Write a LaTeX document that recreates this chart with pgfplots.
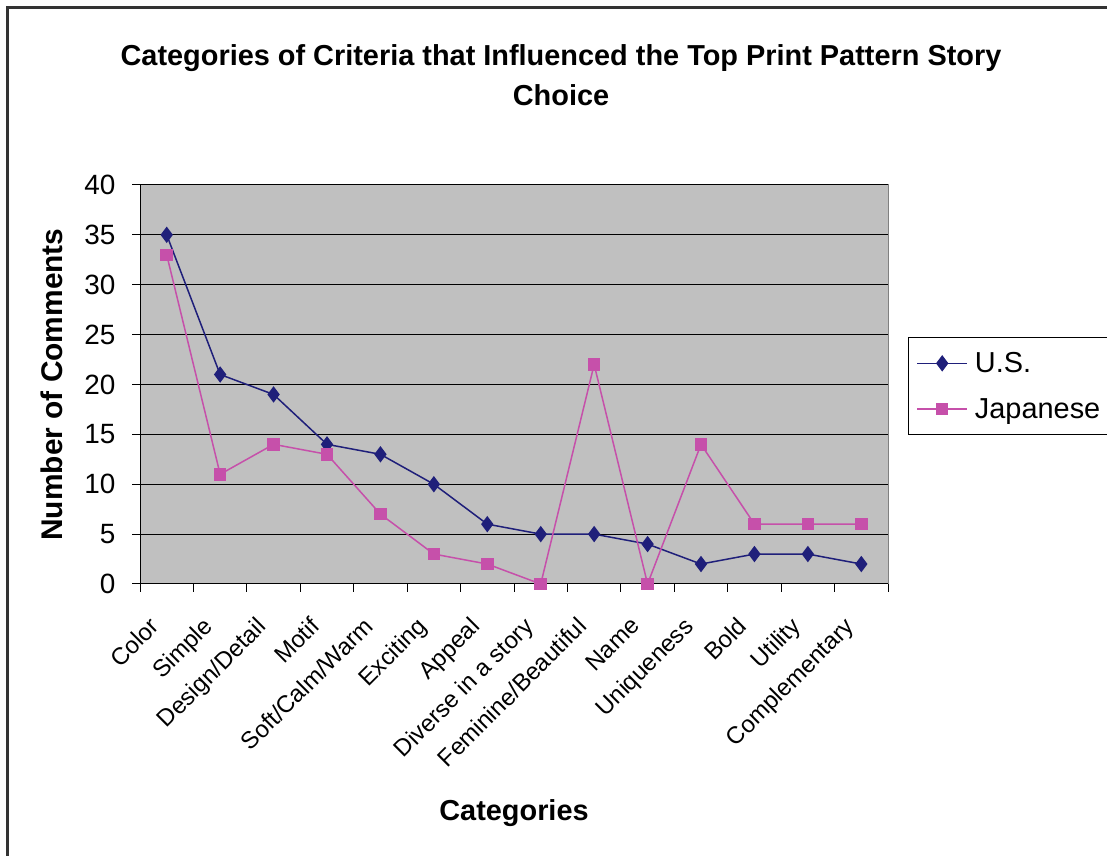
\documentclass[border=0pt]{standalone}
\usepackage{fontspec}
\setmainfont{Liberation Sans}
\usepackage{pgfplots}
\pgfplotsset{compat=1.18}
\definecolor{usc}{RGB}{31,31,122}
\definecolor{jpc}{RGB}{198,80,170}
\definecolor{plotbg}{RGB}{192,192,192}
\begin{document}
\begin{tikzpicture}[x=1bp,y=1bp]
\useasboundingbox (0,0) rectangle (1107,856);
\draw[line width=2.5bp, black!80] (7.5,0) -- (7.5,848.5) -- (1107,848.5);
\node[font=\bfseries\fontsize{29}{40}\selectfont, align=center] at (561,781) {Categories of Criteria that Influenced the Top Print Pattern Story\\Choice};
\begin{axis}[
  at={(140bp,272bp)}, anchor=south west,
  scale only axis, width=748bp, height=399bp,
  xmin=-0.5, xmax=13.5, ymin=0, ymax=40,
  ytick={0,5,...,40},
  xtick={-0.5,0.5,...,13.5},
  xticklabels={},
  extra x ticks={0,...,13},
  extra x tick labels={Color,Simple,Design/Detail,Motif,Soft/Calm/Warm,Exciting,Appeal,Diverse in a story,Feminine/Beautiful,Name,Uniqueness,Bold,Utility,Complementary},
  extra x tick style={major tick length=0pt, tick style={draw=none}},
  tick align=outside,
  major tick length=8bp,
  tick style={draw=black, line width=1bp},
  axis background/.style={fill=plotbg, draw=gray, line width=1bp},
  axis x line*=bottom, axis y line*=left,
  axis line style={black, line width=1bp, -},
  ymajorgrids, grid style={black, line width=1bp},
  /pgf/number format/assume math mode=true,
  yticklabel style={font=\fontsize{28}{32}\selectfont, xshift=-13bp},
  xticklabel style={font=\fontsize{24}{28}\selectfont, rotate=45, anchor=north east, xshift=-32bp, yshift=-6bp},
  xlabel={Categories}, ylabel={Number of Comments},
  xlabel style={font=\bfseries\fontsize{29}{32}\selectfont, yshift=-15bp},
  ylabel style={font=\bfseries\fontsize{30}{32}\selectfont, yshift=15bp},
  legend style={at={(1.0267,0.619)}, anchor=north west, draw=black, line width=1bp, fill=white,
    font=\fontsize{29}{33}\selectfont, row sep=20bp, inner xsep=8bp, inner ysep=13bp},
  legend cell align=left,
  legend image code/.code={\draw[mark repeat=2,mark phase=2] plot coordinates {(0bp,0bp) (25bp,0bp) (50bp,0bp)};},
]
\addplot[usc, line width=1.5bp, mark=diamond*, mark size=7bp, mark options={solid, fill=usc}] coordinates {
(0,35) (1,21) (2,19) (3,14) (4,13) (5,10) (6,6) (7,5) (8,5) (9,4) (10,2) (11,3) (12,3) (13,2)};
\addlegendentry{\hspace{5bp}U.S.}
\addplot[jpc, line width=1.5bp, mark=square*, mark size=5.5bp, mark options={solid, fill=jpc}] coordinates {
(0,33) (1,11) (2,14) (3,13) (4,7) (5,3) (6,2) (7,0) (8,22) (9,0) (10,14) (11,6) (12,6) (13,6)};
\addlegendentry{\hspace{5bp}Japanese}
\end{axis}
\end{tikzpicture}
\end{document}
